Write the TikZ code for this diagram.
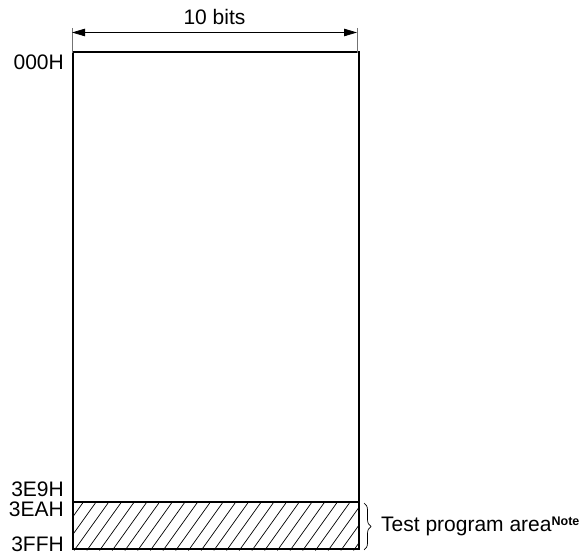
\documentclass[tikz,border=0pt]{standalone}
\usepackage{fontspec}
\setmainfont{Liberation Sans}
\usetikzlibrary{arrows.meta,decorations.pathreplacing}
\begin{document}
\begin{tikzpicture}[x=1pt,y=1pt,
  addr/.style={anchor=east,inner sep=0pt,font=\fontsize{21}{21}\selectfont},
  box/.style={draw,line width=2pt,inner sep=0pt,anchor=south west},
  tick/.style={draw=black!55,line width=0.8pt},
  dim/.style={line width=0.8pt,{Triangle[length=13pt,width=7.5pt]}-{Triangle[length=13pt,width=7.5pt]}},
  hatch/.style={line width=0.7pt}]
\useasboundingbox (0,0) rectangle (586,556);
% memory block
\node[box,minimum width=286pt,minimum height=497.5pt] (mem) at (72,5.5) {};
% hatched test area
\begin{scope}
\clip (72,5.5) rectangle (358,53);
\foreach \x in {0,...,30}{
  \draw[hatch] ({36+12.7*\x},5.5) -- ({36+12.7*\x+34},53);
}
\end{scope}
\node[box,minimum width=286pt,minimum height=47.5pt] (test) at (72,5.5) {};
% dimension
\coordinate (tl) at (72,528);
\coordinate (tr) at (357,528);
\coordinate (bl) at (72,503);
\coordinate (br) at (357,503);
\draw[tick] (tl) -- (bl);
\draw[tick] (tr) -- (br);
\coordinate (al) at (72,523.5);
\coordinate (ar) at (357,523.5);
\draw[dim] (al) -- (ar);
\node[inner sep=0pt,font=\fontsize{21}{21}\selectfont] (bits) at (214.5,538.5) {10 bits};
% addresses
\node[addr] (a000) at (64,494) {000H};
\node[addr] (a3e9) at (64,66.5) {3E9H};
\node[addr] (a3ea) at (64,46.5) {3EAH};
\node[addr] (a3ff) at (64,11.5) {3FFH};
% brace
\coordinate (bt) at (364,53);
\coordinate (bb) at (364,6);
\draw[line width=0.7pt,decorate,decoration={brace,amplitude=7pt}] (bt) -- (bb);
\node[anchor=base west,inner sep=0pt,font=\fontsize{21}{21}\selectfont] (tpa) at (381,24)
  {Test program area\raisebox{6pt}{\fontsize{12.5}{12.5}\selectfont\bfseries Note}};
\end{tikzpicture}
\end{document}
